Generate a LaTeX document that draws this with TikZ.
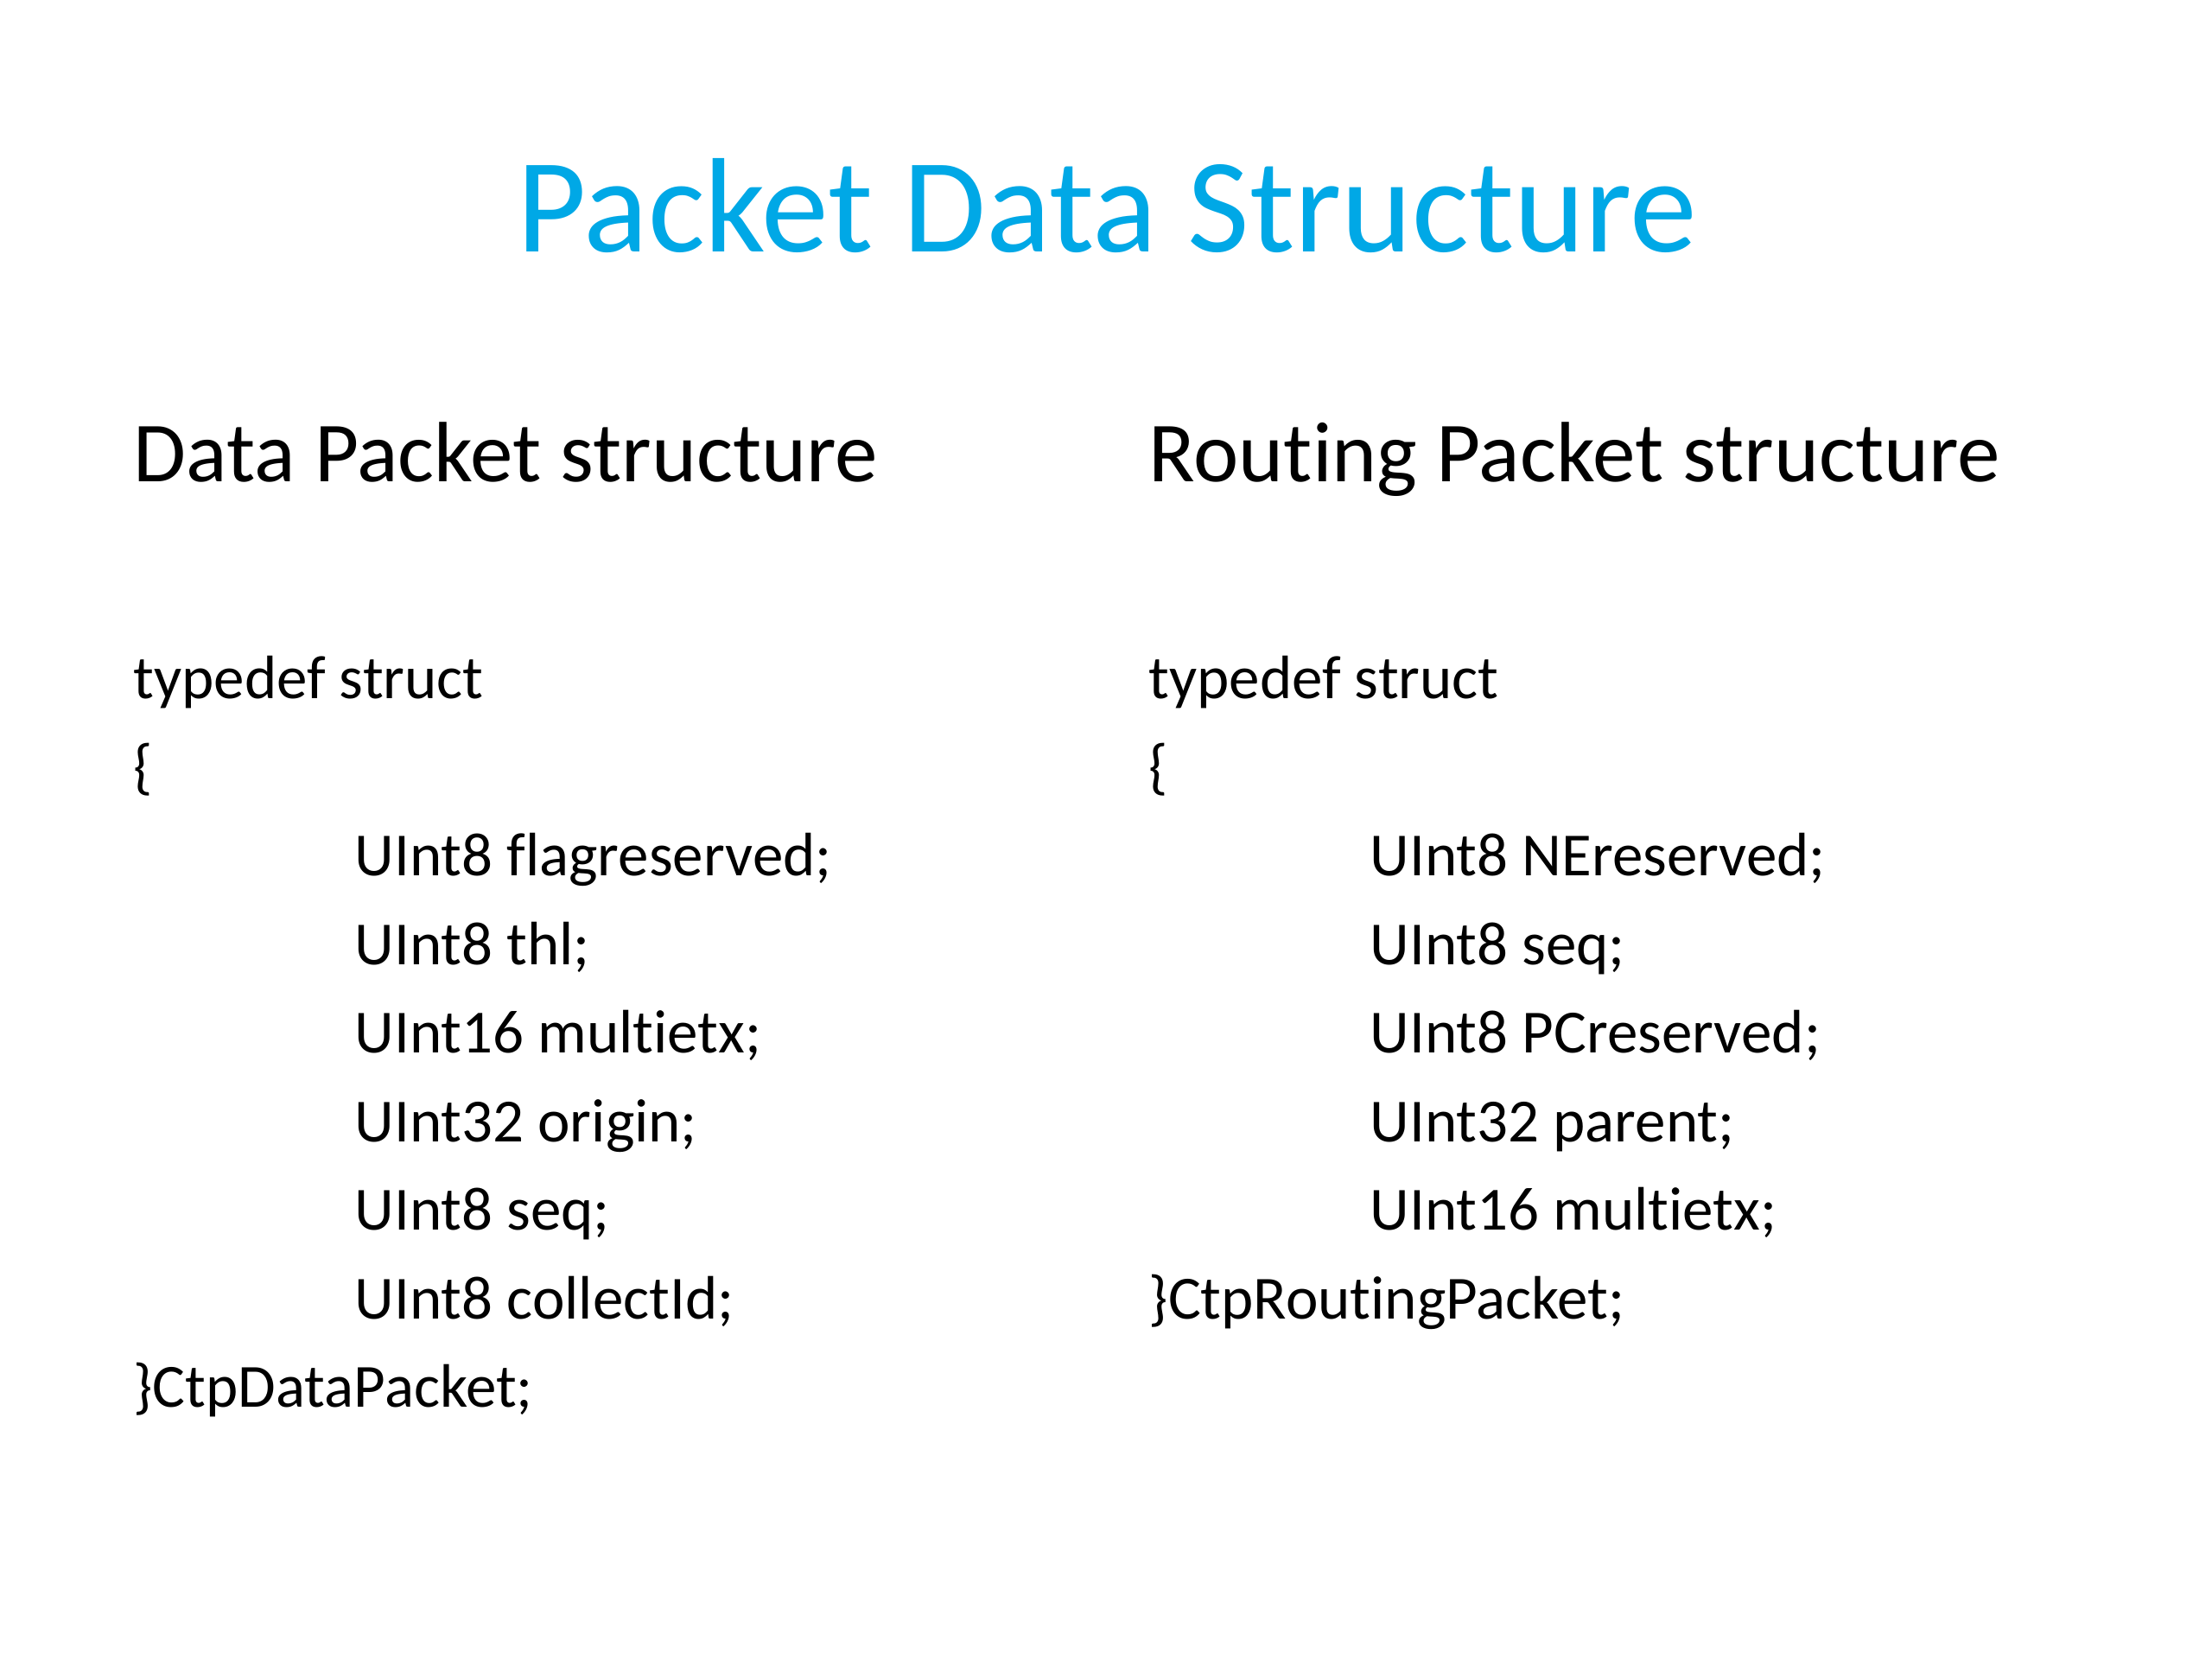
\documentclass[tikz,border=0pt]{standalone}
\usepackage{fontspec}
\setmainfont{Carlito}[Ligatures=NoCommon]
\usetikzlibrary{positioning}
\definecolor{titleblue}{RGB}{0,168,230}

\begin{document}
\begin{tikzpicture}[node distance=1.025cm,
    title/.style={font=\fontsize{44.3}{53}\selectfont, text=titleblue, inner sep=0pt, anchor=base},
    head/.style={font=\fontsize{28.2}{34}\selectfont, inner sep=0pt, anchor=base west},
    code/.style={font=\fontsize{20.2}{24}\selectfont, inner sep=0pt, anchor=base west}]
    \useasboundingbox[fill=white] (0,0) rectangle (25.6,19.2);

    \node (title) [title] at (12.81,16.28) {Packet Data Structure};

    % data packet
    \node (dhead) [head] at (1.54,13.62) {Data Packet structure};
    \node (dtype) [code] at (1.54,11.11) {typedef struct};
    \node (dopen) [below=of dtype.base west, code] {\{};
    \node (dflag) [below=of dopen.base west, xshift=2.56cm, code] {UInt8 flagreserved;};
    \node (dthl) [below=of dflag.base west, code] {UInt8 thl;};
    \node (detx) [below=of dthl.base west, code] {UInt16 multietx;};
    \node (dorig) [below=of detx.base west, code] {UInt32 origin;};
    \node (dseq) [below=of dorig.base west, code] {UInt8 seq;};
    \node (dcoll) [below=of dseq.base west, code] {UInt8 collectId;};
    \node (dclose) [below=of dcoll.base west, xshift=-2.56cm, code] {\}CtpDataPacket;};

    % routing packet
    \node (rhead) [head] at (13.29,13.62) {Routing Packet structure};
    \node (rtype) [code] at (13.29,11.11) {typedef struct};
    \node (ropen) [below=of rtype.base west, code] {\{};
    \node (rne) [below=of ropen.base west, xshift=2.56cm, code] {UInt8 NEreserved;};
    \node (rseq) [below=of rne.base west, code] {UInt8 seq;};
    \node (rpc) [below=of rseq.base west, code] {UInt8 PCreserved;};
    \node (rpar) [below=of rpc.base west, code] {UInt32 parent;};
    \node (retx) [below=of rpar.base west, code] {UInt16 multietx;};
    \node (rclose) [below=of retx.base west, xshift=-2.56cm, code] {\}CtpRoutingPacket;};
\end{tikzpicture}
\end{document}
